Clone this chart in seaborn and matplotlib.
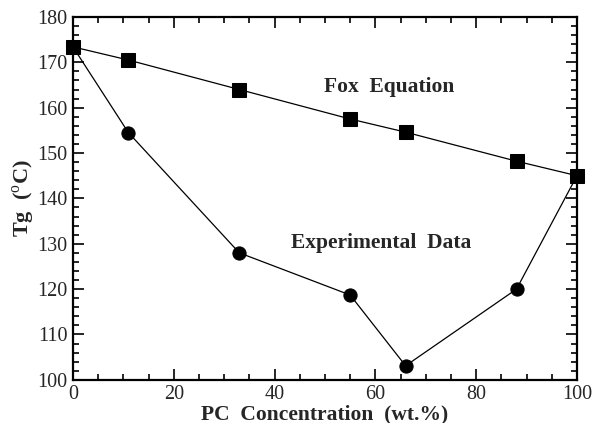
import matplotlib
matplotlib.use("Agg")
import matplotlib.pyplot as plt
import seaborn as sns
import pandas as pd
from matplotlib.ticker import MultipleLocator

pc = [0, 11, 33, 55, 66, 88, 100]
fox = [173.4, 170.5, 164.0, 157.5, 154.6, 148.2, 145.0]
experimental = [173.4, 154.5, 128.0, 118.7, 103.1, 120.0, 145.0]

sns.set_style("ticks")
plt.rcParams['font.family'] = ['Liberation Serif', 'DejaVu Serif']
plt.rcParams['mathtext.fontset'] = 'custom'
plt.rcParams['mathtext.rm'] = 'Liberation Serif'
plt.rcParams['mathtext.bf'] = 'Liberation Serif:bold'

df_fox = pd.DataFrame({"x": pc, "y": fox})
df_exp = pd.DataFrame({"x": pc, "y": experimental})

fig = plt.figure(figsize=(5.93, 4.23), dpi=100)
ax = fig.add_axes([0.123, 0.102, 0.850, 0.858])

sns.lineplot(data=df_fox, x="x", y="y", ax=ax, color="black", linewidth=0.9,
             marker="s", markersize=10, markeredgecolor="black", zorder=3,
             clip_on=False)
sns.lineplot(data=df_exp, x="x", y="y", ax=ax, color="black", linewidth=0.9,
             marker="o", markersize=9.5, markeredgecolor="black", zorder=3,
             clip_on=False)

ax.set_xlim(0, 100)
ax.set_ylim(100, 180)
ax.xaxis.set_major_locator(MultipleLocator(20))
ax.xaxis.set_minor_locator(MultipleLocator(5))
ax.yaxis.set_major_locator(MultipleLocator(10))
ax.yaxis.set_minor_locator(MultipleLocator(2))
ax.tick_params(which="both", direction="in", top=True, right=True, width=1.2,
               labelsize=14.5, color="black")
ax.tick_params(which="major", length=8, pad=4)
ax.tick_params(which="minor", length=4)
for s in ax.spines.values():
    s.set_linewidth(1.6)
    s.set_color("black")

ax.set_xlabel("PC  Concentration  (wt.%)", fontsize=15.5, fontweight="bold", labelpad=0)
ax.set_ylabel(r"$\mathbf{Tg}$  ($^{\mathrm{o}}$C)", fontsize=16, fontweight="bold", labelpad=0)

ax.text(62.8, 164.5, "Fox  Equation", fontsize=15.5, fontweight="bold",
        ha="center", va="center")
ax.text(61.2, 130.2, "Experimental  Data", fontsize=15.5, fontweight="bold",
        ha="center", va="center")

fig.savefig("out.png", dpi=100)
